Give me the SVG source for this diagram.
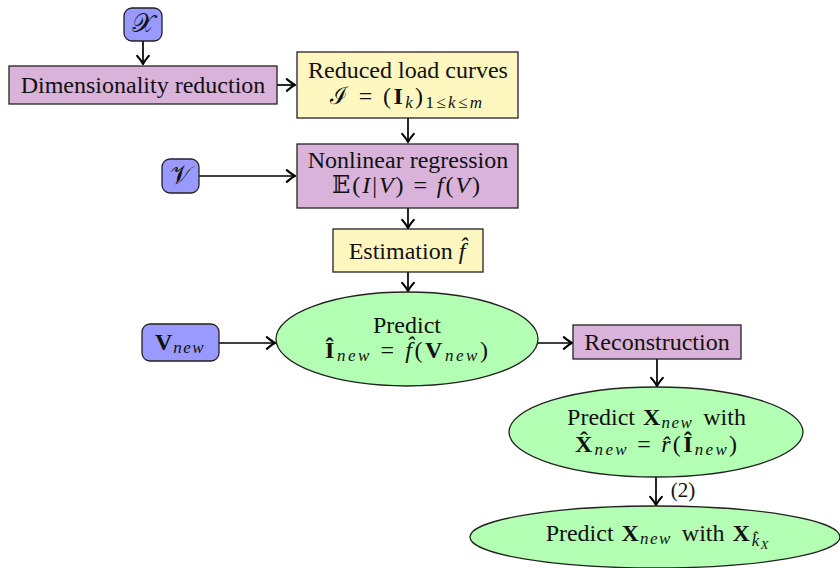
<svg xmlns="http://www.w3.org/2000/svg" width="840" height="568" viewBox="0 0 840 568">
<defs>
<marker id="ah" markerWidth="14" markerHeight="14" refX="0" refY="0" viewBox="-8 -6 10 12" orient="auto" markerUnits="userSpaceOnUse">
<path d="M-7,-5 Q-2.5,-1.2 0,0 Q-2.5,1.2 -7,5" fill="none" stroke="#000" stroke-width="1.8" stroke-linecap="round" stroke-linejoin="round"/>
</marker>
<style>
text{font-family:'Liberation Serif','DejaVu Serif',serif;font-size:24px;fill:#111;text-anchor:middle}
.sub{font-size:17px}
.ls{letter-spacing:1.5px}
.it{font-style:italic}
.b{font-weight:bold}
.cal{font-style:normal}
.purple{fill:#D9B3D9;stroke:#222;stroke-width:1.3}
.yellow{fill:#FFF7BF;stroke:#222;stroke-width:1.3}
.blue{fill:#9999FF;stroke:#222;stroke-width:1.3}
.green{fill:#B3FFB3;stroke:#222;stroke-width:1.3}
.c{stroke:#000;stroke-width:1.7;fill:none;marker-end:url(#ah)}
</style>
</defs>
<rect width="840" height="568" fill="#fff"/>

<g id="connectors">
<line class="c" x1="143" y1="41" x2="143" y2="64"/>
<line class="c" x1="277" y1="85" x2="295" y2="85"/>
<line class="c" x1="408" y1="118" x2="408" y2="142"/>
<line class="c" x1="199" y1="176" x2="295" y2="176"/>
<line class="c" x1="408" y1="208" x2="408" y2="228"/>
<line class="c" x1="408" y1="272" x2="408" y2="291"/>
<line class="c" x1="219" y1="343" x2="275" y2="343"/>
<line class="c" x1="538" y1="343" x2="572" y2="343"/>
<line class="c" x1="657" y1="359" x2="657" y2="386"/>
<line class="c" x1="656" y1="477" x2="656" y2="505"/>
<text x="683" y="497" style="font-size:21px">(2)</text>
</g>

<g id="nX">
<rect class="blue" x="124" y="8" width="38" height="33" rx="8"/>
<text x="143" y="32" class="cal" style="font-size:26px">𝒳</text>
</g>

<g id="nDim">
<rect class="purple" x="9" y="66" width="268" height="38"/>
<text x="143" y="93">Dimensionality reduction</text>
</g>

<g id="nReduced">
<rect class="yellow" x="297" y="52" width="221" height="66"/>
<text x="408" y="78">Reduced load curves</text>
<text x="406" y="104" textLength="152" lengthAdjust="spacing"><tspan class="cal">ℐ</tspan> = (<tspan class="b">I</tspan><tspan class="it sub" dy="4">k</tspan><tspan dy="-4">)</tspan><tspan class="sub" dy="4">1≤<tspan class="it">k</tspan>≤<tspan class="it">m</tspan></tspan></text>
</g>

<g id="nV">
<rect class="blue" x="162" y="159" width="37" height="34" rx="8"/>
<text x="181" y="184" class="cal" style="font-size:26px">𝒱</text>
</g>

<g id="nNonlin">
<rect class="purple" x="297" y="144" width="221" height="64"/>
<text x="408" y="168">Nonlinear regression</text>
<text x="406" y="193" textLength="148" lengthAdjust="spacing">𝔼(<tspan class="it">I</tspan>|<tspan class="it">V</tspan>) = <tspan class="it">f</tspan>(<tspan class="it">V</tspan>)</text>
</g>

<g id="nEst">
<rect class="yellow" x="333" y="229" width="150" height="43"/>
<text x="407" y="259">Estimation <tspan class="it">f̂</tspan></text>
</g>

<g id="nVnew">
<rect class="blue" x="142" y="324" width="77" height="37" rx="8"/>
<text x="180" y="350"><tspan class="b">V</tspan><tspan class="it sub ls" dx="1" dy="3">new</tspan></text>
</g>

<g id="nPredict">
<ellipse class="green" cx="407" cy="339" rx="131" ry="47"/>
<text x="407" y="333">Predict</text>
<text x="406.5" y="358" textLength="163" lengthAdjust="spacing"><tspan class="b">Î</tspan><tspan class="it sub" dy="3">new</tspan><tspan dy="-3"> = </tspan><tspan class="it">f̂</tspan>(<tspan class="b">V</tspan><tspan class="it sub" dy="3">new</tspan><tspan dy="-3">)</tspan></text>
</g>

<g id="nRecon">
<rect class="purple" x="573" y="325" width="168" height="34"/>
<text x="657" y="350">Reconstruction</text>
</g>

<g id="nPredX">
<ellipse class="green" cx="656" cy="432" rx="147" ry="45"/>
<text x="656.5" y="425">Predict <tspan class="b" dx="2">X</tspan><tspan class="it sub ls" dx="1" dy="3">new</tspan><tspan dx="4" dy="-3"> with</tspan></text>
<text x="656" y="452" textLength="162" lengthAdjust="spacing"><tspan class="b">X̂</tspan><tspan class="it sub" dy="3">new</tspan><tspan dy="-3"> = </tspan><tspan class="it">r̂</tspan>(<tspan class="b">Î</tspan><tspan class="it sub" dy="3">new</tspan><tspan dy="-3">)</tspan></text>
</g>

<g id="nPredK">
<ellipse class="green" cx="655" cy="537" rx="185" ry="31"/>
<text x="657" y="541">Predict <tspan class="b" dx="2">X</tspan><tspan class="it sub ls" dx="1" dy="3">new</tspan><tspan dx="4" dy="-3"> with </tspan><tspan class="b" dx="2">X</tspan><tspan class="it sub" dx="2" dy="5">k̂</tspan><tspan class="it" style="font-size:13px" dx="1" dy="3">X</tspan></text>
</g>
</svg>
